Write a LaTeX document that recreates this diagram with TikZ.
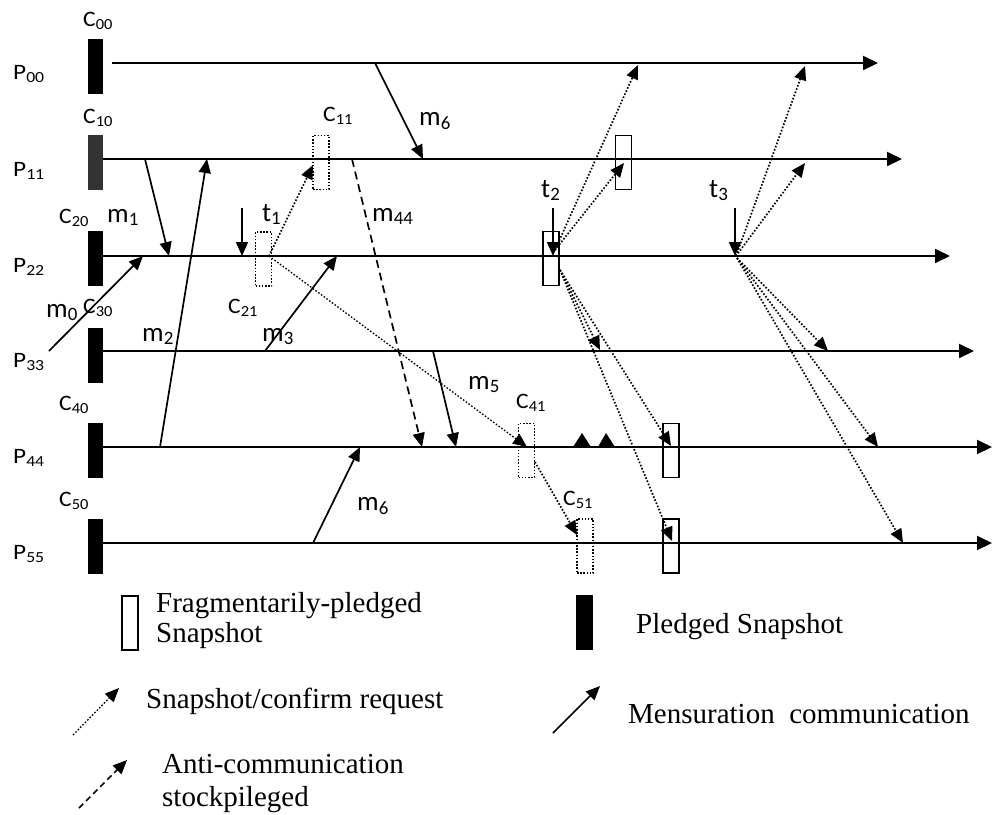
\documentclass[tikz,border=0pt]{standalone}
\usepackage{graphicx}
\usepackage{fontspec}
\setmainfont{Liberation Serif}
\newfontfamily\lab{Carlito}
\newcommand{\wideP}[1]{\scalebox{1.15}[1]{#1}}
\newcommand{\wideC}[1]{\scalebox{1.07}[1]{#1}}
\usetikzlibrary{arrows.meta}
\begin{document}
\begin{tikzpicture}[x=1pt,y=-1pt,
  tline/.style={line width=2pt,-{Triangle[length=15pt,width=14pt]}},
  msg/.style={line width=1.7pt,-{Triangle[length=14pt,width=12pt]}},
  req/.style={line width=1.7pt,dash pattern=on 1.6pt off 1.8pt,-{Triangle[length=14pt,width=12pt]}},
  anti/.style={line width=1.7pt,dash pattern=on 8pt off 5pt,-{Triangle[length=14pt,width=12pt]}},
  pledged/.style={fill=black,draw=none,minimum width=15pt,minimum height=55pt,inner sep=0pt},
  fragbox/.style={draw,line width=1.5pt,minimum width=16pt,minimum height=54pt,inner sep=0pt},
  tentbox/.style={draw,line width=1.5pt,dash pattern=on 1.5pt off 1.7pt,minimum width=16pt,minimum height=54pt,inner sep=0pt},
  plab/.style={anchor=base west,inner sep=0pt,font=\lab\fontsize{22pt}{22pt}\selectfont},
  clab/.style={anchor=base west,inner sep=0pt,font=\lab\fontsize{22pt}{22pt}\selectfont},
  mlab/.style={anchor=base west,inner sep=0pt,font=\lab\fontsize{27pt}{27pt}\selectfont},
  leg/.style={anchor=base west,inner sep=0pt,font=\fontsize{29pt}{29pt}\selectfont},
  tickmark/.style={fill=black,draw=none}
]
\useasboundingbox (0,0) rectangle (992,814);

% pledged snapshot bars
\node[pledged,anchor=north west] (b0) at (88,39) {};
\node[pledged,anchor=north west,fill=black!80] (b1) at (88,135) {};
\node[pledged,anchor=north west] (b2) at (88,231) {};
\node[pledged,anchor=north west] (b3) at (88,328) {};
\node[pledged,anchor=north west] (b4) at (88,423) {};
\node[pledged,anchor=north west] (b5) at (88,519) {};

% timelines
\coordinate (s0) at (112,63);  \coordinate (e0) at (878,63);
\coordinate (s1) at (103,159); \coordinate (e1) at (902,159);
\coordinate (s2) at (103,256); \coordinate (e2) at (950,256);
\coordinate (s3) at (103,351); \coordinate (e3) at (974,351);
\coordinate (s4) at (103,447); \coordinate (e4) at (992,447);
\coordinate (s5) at (103,543); \coordinate (e5) at (992,543);
\foreach \i in {0,...,5} { \draw[tline] (s\i) -- (e\i); }

% process labels
\node[plab] (p0) at (13,79)  {\wideP{P\textsubscript{00}}};
\node[plab] (p1) at (13,176) {\wideP{P\textsubscript{11}}};
\node[plab] (p2) at (13,272) {\wideP{P\textsubscript{22}}};
\node[plab] (p3) at (13,367) {\wideP{P\textsubscript{33}}};
\node[plab] (p4) at (13,463) {\wideP{P\textsubscript{44}}};
\node[plab] (p5) at (13,559) {\wideP{P\textsubscript{55}}};

% checkpoint labels
\node[clab] (c00) at (83,26)   {\wideC{C\textsubscript{00}}};
\node[clab] (c10) at (83,123)  {\wideC{C\textsubscript{10}}};
\node[clab] (c20) at (59,223)  {\wideC{C\textsubscript{20}}};
\node[clab] (c30) at (83,313)  {\wideC{C\textsubscript{30}}};
\node[clab] (c40) at (59,410)  {\wideC{C\textsubscript{40}}};
\node[clab] (c50) at (59,506)  {\wideC{C\textsubscript{50}}};
\node[clab] (c11) at (323,121) {\wideC{C\textsubscript{11}}};
\node[clab] (c21) at (228,313) {\wideC{C\textsubscript{21}}};
\node[clab] (c41) at (516,408) {\wideC{C\textsubscript{41}}};
\node[clab] (c51) at (563,505) {\wideC{C\textsubscript{51}}};

% snapshot boxes
\node[tentbox] (k11) at (321,162.5) {};
\node[tentbox] (k21) at (263.5,259) {};
\node[fragbox] (kt2) at (551,258.5) {};
\node[fragbox] (k1r) at (623.5,162.5) {};
\node[tentbox] (k41) at (526.5,450.5) {};
\node[tentbox] (k51) at (585,546) {};
\node[fragbox] (k4r) at (671,450.5) {};
\node[fragbox] (k5r) at (671,546) {};

% message end points
\coordinate (a6s) at (375,63);  \coordinate (a6e) at (423,159);
\coordinate (a1s) at (145,159); \coordinate (a1e) at (169,256);
\coordinate (a2s) at (160,447); \coordinate (a2e) at (207,159);
\coordinate (a0s) at (49,351);  \coordinate (a0e) at (143,256);
\coordinate (a3s) at (265,351); \coordinate (a3e) at (337,256);
\coordinate (a5s) at (433,351); \coordinate (a5e) at (456,447);
\coordinate (a7s) at (313,543); \coordinate (a7e) at (360,447);
\coordinate (t1s) at (242,208); \coordinate (t1e) at (242,256);
\coordinate (t2s) at (553,208); \coordinate (t2e) at (553,256);
\coordinate (t3s) at (735,208); \coordinate (t3e) at (735,256);
\coordinate (a44s) at (352,159); \coordinate (a44e) at (422,447);

\draw[msg] (a6s) -- (a6e);
\draw[msg] (a1s) -- (a1e);
\draw[msg] (a2s) -- (a2e);
\draw[msg] (a0s) -- (a0e);
\draw[msg] (a3s) -- (a3e);
\draw[msg] (a5s) -- (a5e);
\draw[msg] (a7s) -- (a7e);
\draw[msg] (t1s) -- (t1e);
\draw[msg] (t2s) -- (t2e);
\draw[msg] (t3s) -- (t3e);
\draw[anti] (a44s) -- (a44e);

% request end points
\coordinate (q21) at (269,256);
\coordinate (q41) at (535,462);
\coordinate (qt2a) at (555,250);
\coordinate (qt2b) at (560,270);
\coordinate (qt3a) at (736,256);
\coordinate (qt3b) at (737,258);
\coordinate (r1e) at (313,165);
\coordinate (r2e) at (527,447);
\coordinate (r3e) at (577,535);
\coordinate (r4e) at (638,65);
\coordinate (r5e) at (624,163);
\coordinate (r6e) at (600,350);
\coordinate (r7e) at (671,446);
\coordinate (r8e) at (672,541);
\coordinate (r9e) at (805,66);
\coordinate (r10e) at (805,163);
\coordinate (r11e) at (828,351);
\coordinate (r12e) at (878,447);
\coordinate (r13e) at (903,543);

\draw[req] (q21) -- (r1e);
\draw[req,line width=1.3pt] (q21) -- (r2e);
\draw[req] (q41) -- (r3e);
\draw[req] (qt2a) -- (r4e);
\draw[req] (qt2a) -- (r5e);
\draw[req] (qt2b) -- (r6e);
\draw[req] (qt2b) -- (r7e);
\draw[req] (qt2b) -- (r8e);
\draw[req] (qt3a) -- (r9e);
\draw[req] (qt3a) -- (r10e);
\draw[req] (qt3b) -- (r11e);
\draw[req] (qt3b) -- (r12e);
\draw[req] (qt3b) -- (r13e);

% small marks on P44
\fill[tickmark] (573,447) -- (591,447) -- (582,433) -- cycle;
\fill[tickmark] (598,447) -- (615,447) -- (606,433) -- cycle;

% message labels
\node[mlab] (lm1) at (107,222) {m\textsubscript{1}};
\node[mlab] (lm0) at (46,317)  {m\textsubscript{0}};
\node[mlab] (lm2) at (142,341) {m\textsubscript{2}};
\node[mlab] (lm3) at (262,341) {m\textsubscript{3}};
\node[mlab] (lm44) at (372,221) {m\textsubscript{44}};
\node[mlab] (lm6a) at (419,125) {m\textsubscript{6}};
\node[mlab] (lm5) at (468,389) {m\textsubscript{5}};
\node[mlab] (lm6b) at (357,510) {m\textsubscript{6}};
\node[mlab] (lt1) at (262,221) {t\textsubscript{1}};
\node[mlab] (lt2) at (541,197) {t\textsubscript{2}};
\node[mlab] (lt3) at (709,197) {t\textsubscript{3}};

% legend
\node[fragbox,anchor=north west] (lgbox) at (121,595) {};
\node[leg] (lgt1) at (156,612) {Fragmentarily-pledged};
\node[leg] (lgt2) at (156,642) {Snapshot};
\node[pledged,anchor=north west,minimum width=17pt] (lgbar) at (576,595) {};
\node[leg] (lgt3) at (636,633) {Pledged Snapshot};
\coordinate (lq1) at (73,735);  \coordinate (lq2) at (119,688);
\draw[req,line width=1.3pt] (lq1) -- (lq2);
\node[leg] (lgt4) at (146,708) {Snapshot/confirm request};
\coordinate (lm1s) at (553,733); \coordinate (lm1e) at (600,686);
\draw[msg] (lm1s) -- (lm1e);
\node[leg] (lgt5) at (628,723) {Mensuration\ \ communication};
\coordinate (la1) at (79,808); \coordinate (la2) at (127,760);
\draw[anti,dash pattern=on 6pt off 4pt] (la1) -- (la2);
\node[leg] (lgt6) at (162,773) {Anti-communication};
\node[leg] (lgt7) at (162,806) {stockpileged};
\end{tikzpicture}
\end{document}
